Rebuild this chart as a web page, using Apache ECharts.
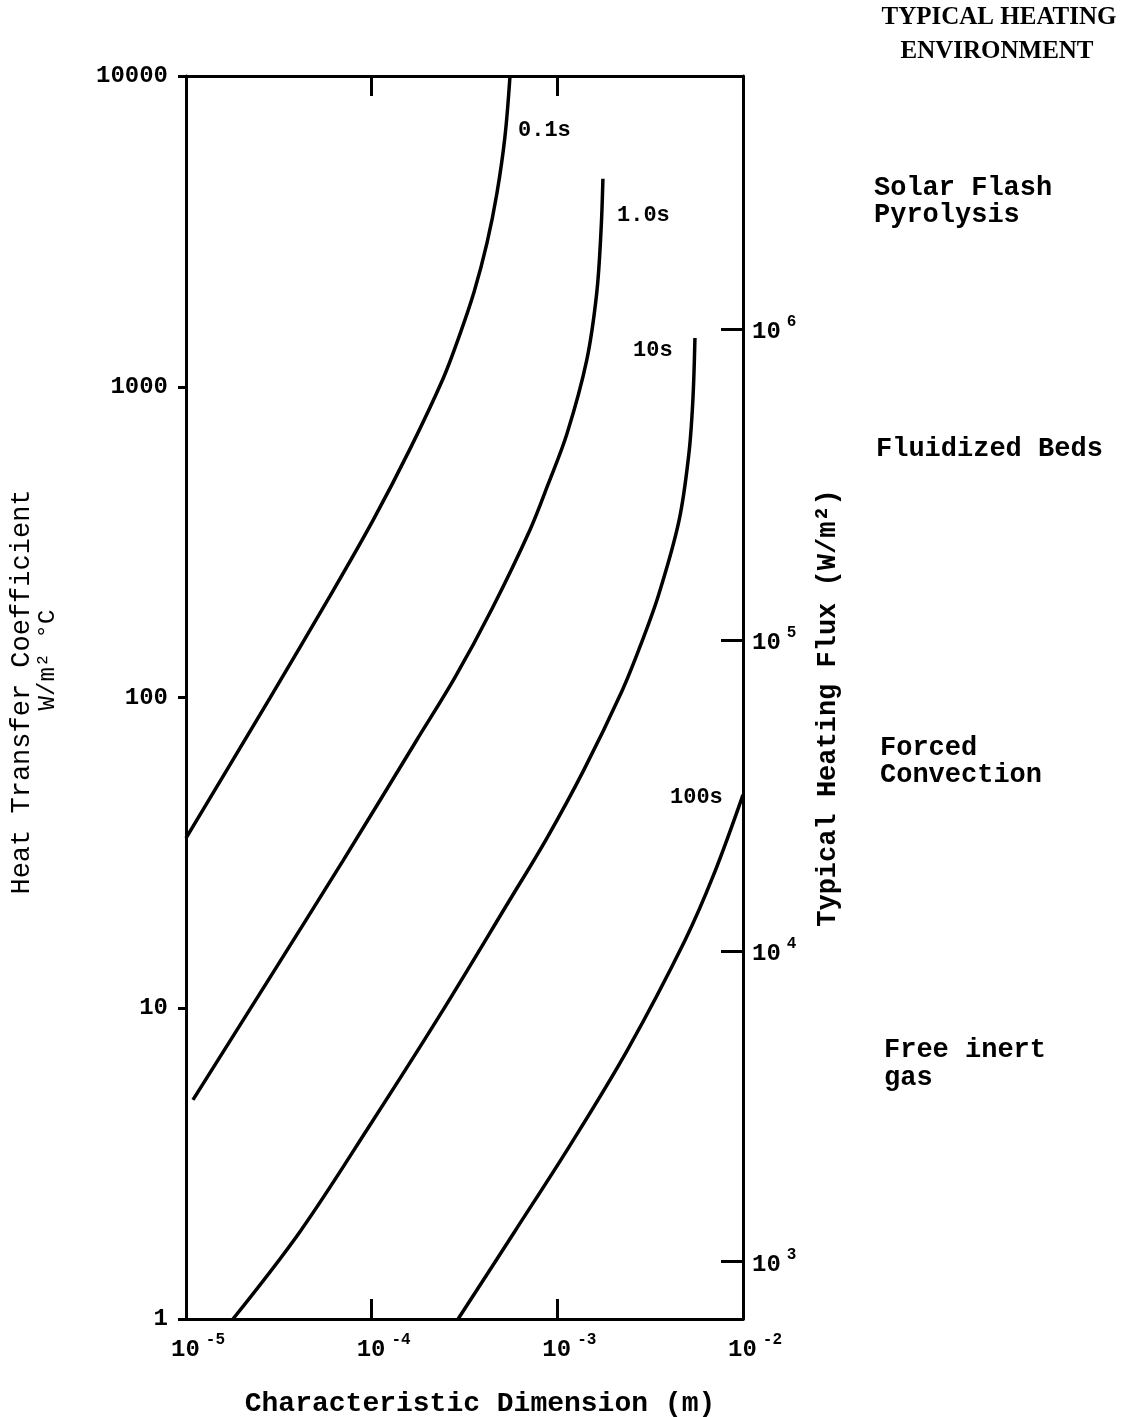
<!DOCTYPE html>
<html><head><meta charset="utf-8">
<script src="https://cdn.jsdelivr.net/npm/echarts@6/dist/echarts.min.js"></script>
<style>html,body{margin:0;padding:0;background:#fff}#c{width:1124px;height:1417px}</style>
</head><body><div id="c"></div>
<script>
// characteristic dimension (m) vs heat transfer coefficient (W/m2 C)
const curve0p1s = [[1.0e-5,35.3],[2.83e-5,99.6],[5.96e-5,212],[1.02e-4,373],[1.61e-4,631],[2.42e-4,1059],[2.95e-4,1445],[3.56e-4,2018],[4.18e-4,2902],[4.73e-4,4204],[5.22e-4,6365],[5.56e-4,10000]];
const curve1s   = [[1.09e-5,5.07],[2.77e-5,12.3],[7.0e-5,29.8],[1.75e-4,73],[2.81e-4,116],[4.45e-4,193],[7.12e-4,346],[8.89e-4,483],[1.13e-3,710],[1.44e-3,1219],[1.63e-3,2004],[1.72e-3,3194],[1.76e-3,4670]];
const curve10s  = [[1.79e-5,1],[4.11e-5,1.91],[9.8e-5,4.21],[2.33e-4,9.5],[5.49e-4,22.1],[8.79e-4,35.3],[1.39e-3,58.5],[2.23e-3,105],[2.79e-3,146],[3.52e-3,215],[4.52e-3,370],[5.11e-3,608],[5.37e-3,906],[5.51e-3,1435]];
const curve100s = [[2.92e-4,1],[5.92e-4,1.92],[1.2e-3,3.71],[2.4e-3,7.39],[4.86e-3,16.5],[6.97e-3,27.0],[1e-2,48.6]];
const curveNames = ['0.1s','1.0s','10s','100s'];
const envLabels = [['Solar Flash','Pyrolysis'],['Fluidized Beds'],['Forced','Convection'],['Free inert','gas']];
const xRange = [1e-5, 1e-2];
const yRange = [1, 10000];
const fluxRange = [654, 6540000];

const MONO = 'Liberation Mono';
const chart = echarts.init(document.getElementById('c'), null, {renderer:'canvas'});
const lineCol = '#000';
function supLabel(v, neg){
  const e = Math.round(Math.log10(v));
  if (Math.abs(Math.log10(v) - e) > 1e-6) return '';
  return '{b|10}{s|' + (neg ? '-' + (-e) : e) + '}';
}
const richSup = {
  g: {width: 24, fontSize: 24},
  b: {fontFamily: MONO, fontWeight: 'bold', fontSize: 24, color: '#000', verticalAlign: 'bottom', lineHeight: 30},
  s: {fontFamily: MONO, fontWeight: 'bold', fontSize: 16, color: '#000', verticalAlign: 'top', padding: [0,0,0,6]}
};
const baseAxis = {
  type: 'log', logBase: 10,
  splitLine: {show: false}, minorTick: {show: false}, minorSplitLine: {show:false},
  axisLine: {show: true, lineStyle: {color: lineCol, width: 3}},
  axisTick: {show: true, inside: true, length: 20, lineStyle: {color: lineCol, width: 3}}
};
function mkSeries(data, i){
  return {type: 'line', data: data, smooth: 0.35, showSymbol: false, silent: true,
    lineStyle: {color: '#000', width: 3.5}, xAxisIndex: 0, yAxisIndex: 0, name: curveNames[i]};
}
const T = (x, y, text, style) => ({type:'text', x, y, style: Object.assign({text, fill:'#000', fontFamily: MONO, fontWeight:'bold', fontSize: 27, textVerticalAlign:'middle'}, style||{})});
const option = {
  animation: false,
  backgroundColor: '#fff',
  grid: {left: 186, right: 381, top: 76, bottom: 98, containLabel: false},
  xAxis: [
    Object.assign({}, baseAxis, {position: 'bottom', min: xRange[0], max: xRange[1],
      axisLabel: {show: true, margin: 13, align: 'center', formatter: v => '{g| }' + supLabel(v, true), rich: richSup}}),
    Object.assign({}, baseAxis, {position: 'top', min: xRange[0], max: xRange[1], axisLabel: {show: false}})
  ],
  yAxis: [
    Object.assign({}, baseAxis, {position: 'left', min: yRange[0], max: yRange[1],
      axisTick: {show: true, inside: false, length: 8, lineStyle: {color: lineCol, width: 3}},
      axisLabel: {show: true, margin: 18, fontFamily: MONO, fontWeight: 'bold', fontSize: 24, color: '#000',
        formatter: v => String(Math.round(v))}}),
    Object.assign({}, baseAxis, {position: 'right', min: fluxRange[0], max: fluxRange[1],
      axisTick: {show: true, inside: true, length: 22, lineStyle: {color: lineCol, width: 3}},
      axisLabel: {show: true, margin: 9, align: 'left', formatter: v => supLabel(v, false), rich: richSup}})
  ],
  series: [curve0p1s, curve1s, curve10s, curve100s].map(mkSeries),
  graphic: [
    T(999, 18, 'TYPICAL HEATING', {fontFamily:'Liberation Serif', fontSize: 25, textAlign:'center'}),
    T(997, 52, 'ENVIRONMENT', {fontFamily:'Liberation Serif', fontSize: 25, textAlign:'center'}),
    T(874, 188, envLabels[0][0]), T(874, 215, envLabels[0][1]),
    T(876, 449, envLabels[1][0]),
    T(880, 748, envLabels[2][0]), T(880, 775, envLabels[2][1]),
    T(884, 1050, envLabels[3][0]), T(884, 1078, envLabels[3][1]),
    T(518, 130, curveNames[0], {fontSize: 22}),
    T(617, 215, curveNames[1], {fontSize: 22}),
    T(633, 350, curveNames[2], {fontSize: 22}),
    T(670, 797, curveNames[3], {fontSize: 22}),
    T(480, 1404, 'Characteristic Dimension (m)', {fontSize: 28, textAlign:'center'}),
    {type:'text', x: 22, y: 692, rotation: Math.PI/2, style: {text: 'Heat Transfer Coefficient', fill:'#000', fontFamily: MONO, fontSize: 27, textAlign:'center', textVerticalAlign:'middle'}},
    {type:'text', x: 48, y: 660, rotation: Math.PI/2, style: {text: 'W/m\u00B2 \u00B0C', fill:'#000', fontFamily: MONO, fontSize: 24, textAlign:'center', textVerticalAlign:'middle'}},
    {type:'text', x: 828, y: 708, rotation: Math.PI/2, style: {text: 'Typical Heating Flux (W/m\u00B2)', fill:'#000', fontFamily: MONO, fontWeight:'bold', fontSize: 27, textAlign:'center', textVerticalAlign:'middle'}}
  ]
};
chart.setOption(option);
</script></body></html>
